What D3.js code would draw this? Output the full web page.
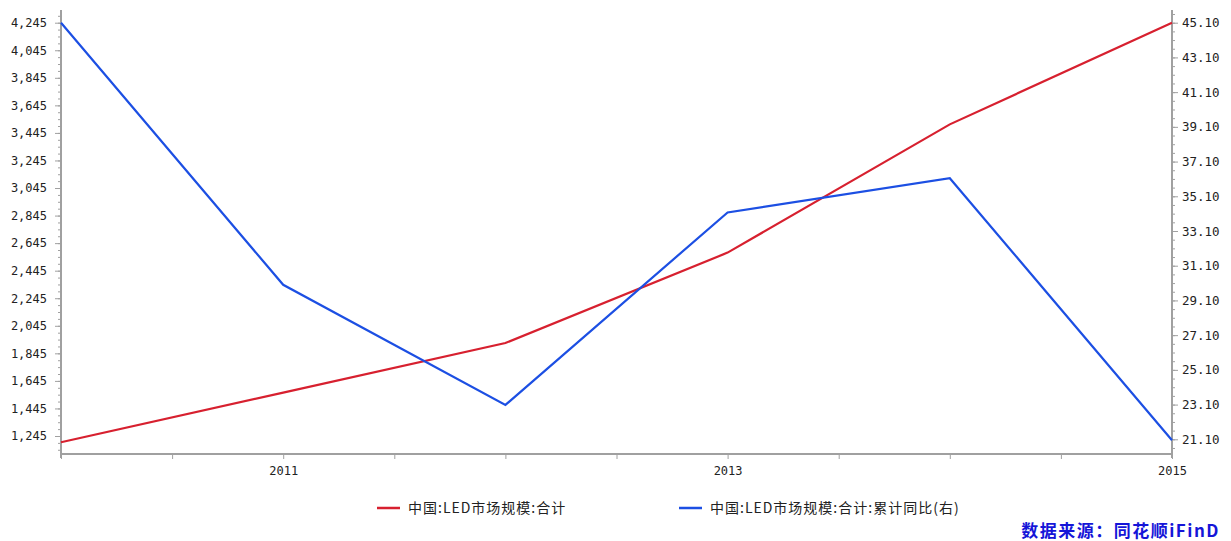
<!DOCTYPE html>
<html>
<head>
<meta charset="utf-8">
<script src="https://cdn.jsdelivr.net/npm/d3@7"></script>
<style>
  body { margin: 0; background: #fff; }
  svg { display: block; }
  .tick text { font-family: "DejaVu Sans Mono", "Liberation Mono", monospace; font-size: 12px; fill: #222; }
</style>
</head>
<body>
<div id="chart"></div>
<script>
// data
const years = [2010, 2011, 2012, 2013, 2014, 2015];
const marketSize = [1200, 1560, 1920, 2576, 3507, 4245];
const yoyGrowth = [45.10, 30.0, 23.08, 34.17, 36.14, 21.05];
const leftTicks = [1245, 1445, 1645, 1845, 2045, 2245, 2445, 2645, 2845, 3045, 3245, 3445, 3645, 3845, 4045, 4245];
const rightTicks = [21.10, 23.10, 25.10, 27.10, 29.10, 31.10, 33.10, 35.10, 37.10, 39.10, 41.10, 43.10, 45.10];
const xLabels = [2011, 2013, 2015];
const seriesNames = ["中国:LED市场规模:合计", "中国:LED市场规模:合计:累计同比(右)"];
const sourceText = "数据来源：同花顺iFinD";

// frame
const WIDTH = 1231, HEIGHT = 541;
const PLOT = {left: 61, right: 1172, top: 10, bottom: 454};
const RED = "#d7202f", BLUE = "#1c4fe3", AXIS = "#a0a0a0";

const svg = d3.select("#chart").append("svg")
  .attr("width", WIDTH).attr("height", HEIGHT);

// scales
const x = d3.scaleLinear().domain([2010, 2015]).range([PLOT.left, PLOT.right]);
const yLeft = d3.scaleLinear().domain([1245, 4245]).range([436, 22.7]);
const yRight = d3.scaleLinear().domain([21.10, 45.10]).range([439.3, 22.7]);

// minor tick helpers
const leftMinor = d3.range(1245 - 100, 4245 + 100, 50).filter(v => yLeft(v) >= PLOT.top && yLeft(v) <= PLOT.bottom);
const rightMinor = d3.range(21.10 - 1, 45.10 + 1.01, 0.5).filter(v => yRight(v) >= PLOT.top && yRight(v) <= PLOT.bottom);

// left axis
svg.append("g")
  .attr("transform", "translate(" + PLOT.left + ",0)")
  .call(d3.axisLeft(yLeft).tickValues(leftMinor).tickSize(3).tickFormat(""))
  .call(g => g.select(".domain").remove())
  .selectAll("line").attr("stroke", AXIS);
svg.append("g")
  .attr("transform", "translate(" + PLOT.left + ",0)")
  .call(d3.axisLeft(yLeft).tickValues(leftTicks).tickSize(6).tickPadding(8)
    .tickFormat(d3.format(",")))
  .call(g => g.select(".domain").remove())
  .call(g => g.selectAll("line").attr("stroke", AXIS));

// right axis
svg.append("g")
  .attr("transform", "translate(" + PLOT.right + ",0)")
  .call(d3.axisRight(yRight).tickValues(rightMinor).tickSize(3).tickFormat(""))
  .call(g => g.select(".domain").remove())
  .selectAll("line").attr("stroke", AXIS);
svg.append("g")
  .attr("transform", "translate(" + PLOT.right + ",0)")
  .call(d3.axisRight(yRight).tickValues(rightTicks).tickSize(6).tickPadding(4)
    .tickFormat(d3.format(".2f")))
  .call(g => g.select(".domain").remove())
  .call(g => g.selectAll("line").attr("stroke", AXIS))
  .call(g => g.selectAll("text").style("font-size", "12.5px"));

// bottom axis
const halfYears = d3.range(2010, 2015.01, 0.5);
svg.append("g")
  .attr("transform", "translate(0," + PLOT.bottom + ")")
  .call(d3.axisBottom(x).tickValues(halfYears).tickSize(5).tickFormat(""))
  .call(g => g.select(".domain").remove())
  .selectAll("line").attr("stroke", AXIS);
svg.append("g")
  .attr("transform", "translate(0," + PLOT.bottom + ")")
  .call(d3.axisBottom(x).tickValues(xLabels).tickSize(0).tickPadding(12).tickFormat(d3.format("d")))
  .call(g => g.select(".domain").remove());

// axis lines
svg.append("line").attr("x1", PLOT.left).attr("x2", PLOT.left)
  .attr("y1", PLOT.top).attr("y2", PLOT.bottom + 4)
  .attr("stroke", AXIS).attr("stroke-width", 2);
svg.append("line").attr("x1", PLOT.right).attr("x2", PLOT.right)
  .attr("y1", PLOT.top).attr("y2", PLOT.bottom + 4)
  .attr("stroke", AXIS).attr("stroke-width", 2);
svg.append("line").attr("x1", PLOT.left).attr("x2", PLOT.right)
  .attr("y1", PLOT.bottom).attr("y2", PLOT.bottom)
  .attr("stroke", AXIS).attr("stroke-width", 2);

// lines
const redLine = d3.line().x((d, i) => x(years[i])).y(d => yLeft(d));
const blueLine = d3.line().x((d, i) => x(years[i])).y(d => yRight(d));

svg.append("path").datum(marketSize)
  .attr("d", redLine).attr("fill", "none")
  .attr("stroke", RED).attr("stroke-width", 2.2);
svg.append("path").datum(yoyGrowth)
  .attr("d", blueLine).attr("fill", "none")
  .attr("stroke", BLUE).attr("stroke-width", 2.2);

// legend
const legend = [
  {name: seriesNames[0], color: RED, x: 377},
  {name: seriesNames[1], color: BLUE, x: 679}
];
const lg = svg.selectAll(".legend").data(legend).enter().append("g")
  .attr("transform", d => "translate(" + d.x + ",508)");
lg.append("line").attr("x1", 0).attr("x2", 23).attr("y1", 0).attr("y2", 0)
  .attr("stroke", d => d.color).attr("stroke-width", 2.5);
lg.append("text").attr("x", 31).attr("y", 5)
  .attr("font-family", "'Noto Sans CJK SC', sans-serif").attr("font-size", 14)
  .attr("letter-spacing", 1)
  .attr("fill", "#222")
  .text(d => d.name);

// source
svg.append("text")
  .attr("x", 1220).attr("y", 537).attr("text-anchor", "end")
  .attr("font-family", "'Noto Sans CJK SC', sans-serif").attr("font-size", 17)
  .attr("letter-spacing", 1.5)
  .attr("font-weight", "bold").attr("fill", "#1515d8")
  .text(sourceText);
</script>
</body>
</html>
